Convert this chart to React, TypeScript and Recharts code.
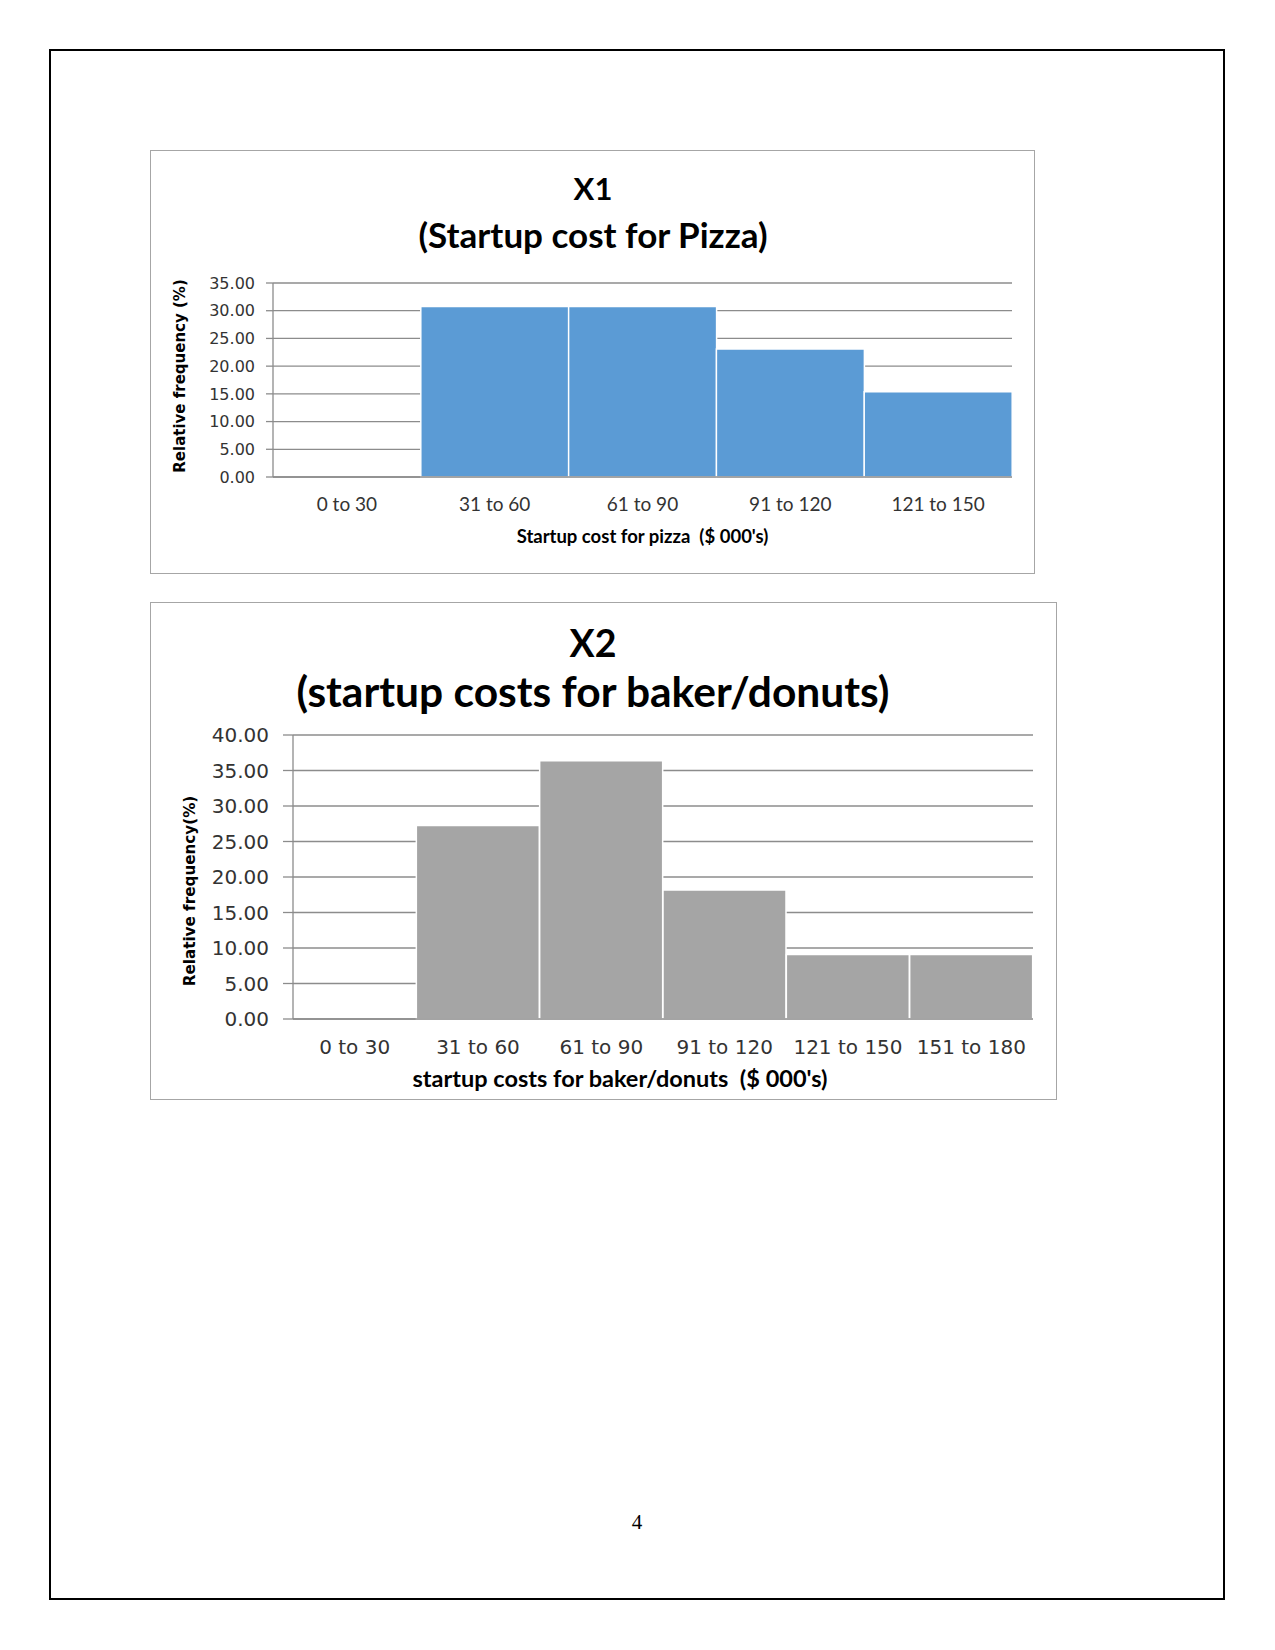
import { BarChart, Bar, XAxis, YAxis, CartesianGrid, Label } from 'recharts';

// X1 - pizza startup costs
const pizzaBins = ['0 to 30', '31 to 60', '61 to 90', '91 to 120', '121 to 150'];
const pizzaFreq = [0, 30.77, 30.77, 23.08, 15.38];
const pizzaTicks = [0, 5, 10, 15, 20, 25, 30, 35];

// X2 - baker/donuts startup costs
const bakerBins = ['0 to 30', '31 to 60', '61 to 90', '91 to 120', '121 to 150', '151 to 180'];
const bakerFreq = [0, 27.27, 36.36, 18.18, 9.09, 9.09];
const bakerTicks = [0, 5, 10, 15, 20, 25, 30, 35, 40];

const pizzaData = pizzaBins.map((bin, i) => ({ bin, freq: pizzaFreq[i] }));
const bakerData = bakerBins.map((bin, i) => ({ bin, freq: bakerFreq[i] }));

const GRID = '#8c8c8c';
const TEXT = '#333';
const CALIBRI = 'Lato, "Open Sans", sans-serif';
const VERDANA = '"DejaVu Sans", Verdana, sans-serif';

// one line of a chart title, centred on cy
function TitleLine({ text, centerX, cy, size }: { text: string; centerX: number; cy: number; size: number }) {
  return (
    <div
      style={{
        position: 'absolute',
        left: 0,
        width: centerX * 2,
        top: cy - size * 0.6,
        height: size * 1.2,
        lineHeight: `${size * 1.2}px`,
        textAlign: 'center',
        fontFamily: CALIBRI,
        fontWeight: 700,
        fontSize: size,
        color: '#000',
        whiteSpace: 'nowrap',
      }}
    >
      {text}
    </div>
  );
}

function PizzaChart() {
  return (
    <div style={{ position: 'absolute', left: 150, top: 150, width: 885, height: 424, border: '1px solid #a6a6a6', boxSizing: 'border-box', background: '#fff' }}>
      <TitleLine text="X1" centerX={442} cy={38} size={31} />
      <TitleLine text="(Startup cost for Pizza)" centerX={442} cy={83} size={35} />
      <div style={{ position: 'absolute', left: 0, top: 0 }}>
        <BarChart width={883} height={422} data={pizzaData} barCategoryGap={0} margin={{ top: 132, right: 22, bottom: 16, left: 10 }}>
          <CartesianGrid vertical={false} stroke={GRID} strokeWidth={1.3} />
          <XAxis
            dataKey="bin"
            height={80}
            stroke={GRID}
            strokeWidth={1.3}
            tickLine={false}
            tickSize={0}
            tickMargin={21}
            tick={{ fill: TEXT, fontFamily: CALIBRI, fontSize: 19 }}
          >
            <Label value={"Startup cost for pizza\u00a0\u00a0($ 000's)"} position="insideTop" offset={53} fill="#000" fontFamily={CALIBRI} fontWeight={700} fontSize={18.5} />
          </XAxis>
          <YAxis
            width={112}
            domain={[0, 35]}
            ticks={pizzaTicks}
            interval={0}
            tickFormatter={(v: number) => v.toFixed(2)}
            stroke={GRID}
            strokeWidth={1.3}
            tickSize={7}
            tickMargin={11}
            tick={{ fill: TEXT, fontFamily: VERDANA, fontSize: 16 }}
          >
            <Label value="Relative frequency (%)" angle={-90} position="center" dx={-37} dy={-4} fill="#000" fontFamily={VERDANA} fontWeight={700} fontSize={15} />
          </YAxis>
          <Bar dataKey="freq" fill="#5B9BD5" stroke="#fff" strokeWidth={1.5} isAnimationActive={false} />
        </BarChart>
      </div>
    </div>
  );
}

function BakerChart() {
  return (
    <div style={{ position: 'absolute', left: 150, top: 602, width: 907, height: 498, border: '1px solid #a6a6a6', boxSizing: 'border-box', background: '#fff' }}>
      <TitleLine text="X2" centerX={442} cy={39} size={37.5} />
      <TitleLine text="(startup costs for baker/donuts)" centerX={442} cy={87.5} size={42.5} />
      <div style={{ position: 'absolute', left: 0, top: 0 }}>
        <BarChart width={905} height={496} data={bakerData} barCategoryGap={0} margin={{ top: 132, right: 23, bottom: 10, left: 10 }}>
          <CartesianGrid vertical={false} stroke={GRID} strokeWidth={1.3} />
          <XAxis
            dataKey="bin"
            height={70}
            stroke={GRID}
            strokeWidth={1.3}
            tickLine={false}
            tickSize={0}
            tickMargin={21}
            interval={0}
            tick={{ fill: TEXT, fontFamily: VERDANA, fontSize: 20 }}
          >
            <Label value={"startup costs for baker/donuts\u00a0\u00a0($ 000's)"} position="insideTop" offset={51} dx={-43} fill="#000" fontFamily={CALIBRI} fontWeight={700} fontSize={23.5} />
          </XAxis>
          <YAxis
            width={132}
            domain={[0, 40]}
            ticks={bakerTicks}
            interval={0}
            tickFormatter={(v: number) => v.toFixed(2)}
            stroke={GRID}
            strokeWidth={1.3}
            tickSize={10}
            tickMargin={14}
            tick={{ fill: TEXT, fontFamily: VERDANA, fontSize: 20 }}
          >
            <Label value="Relative frequency(%)" angle={-90} position="center" dx={-37} dy={14} fill="#000" fontFamily={VERDANA} fontWeight={700} fontSize={15.2} />
          </YAxis>
          <Bar dataKey="freq" fill="#A5A5A5" stroke="#fff" strokeWidth={1.5} isAnimationActive={false} />
        </BarChart>
      </div>
    </div>
  );
}

export default function App() {
  return (
    <div style={{ position: 'absolute', left: 0, top: 0, width: 1275, height: 1650, background: '#fff' }}>
      <div style={{ position: 'absolute', left: 49, top: 49, width: 1176, height: 1551, border: '2px solid #000', boxSizing: 'border-box' }} />
      <PizzaChart />
      <BakerChart />
      <div style={{ position: 'absolute', left: 600, width: 74, top: 1508, height: 28, lineHeight: '28px', textAlign: 'center', fontFamily: '"Liberation Serif", "Times New Roman", serif', fontSize: 21, color: '#000' }}>
        4
      </div>
    </div>
  );
}
